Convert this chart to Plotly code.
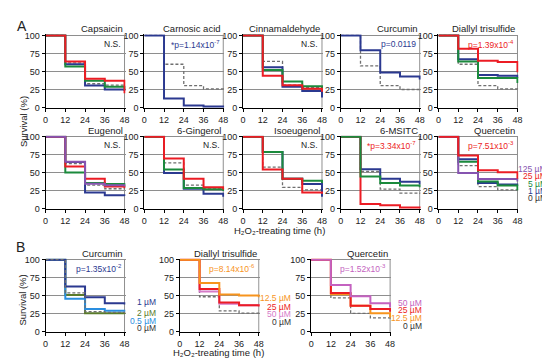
import plotly.graph_objects as go

W, H = 550, 362
TIMES = [0, 12, 24, 36, 48]
X_TICKS = [0, 12, 24, 36, 48]
Y_TICKS = [0, 25, 50, 75, 100]

# ---- colours ----
GRAY = "#6f6f6f"
NAVY = "#2b3990"
GREEN = "#1b8a3c"
RED = "#ec1c24"
PURPLE = "#8654b0"
OLIVE = "#5a7b2a"
LBLUE = "#2a8ee0"
ORANGE = "#f7941d"
PINK = "#d67ac8"
MAGENTA = "#c462c0"

# ---- data (survival %, at 0/12/24/36/48 h) ----
capsaicin = {"0": [100, 62, 33, 31, 24], "1": [100, 60, 30.5, 25, 23],
             "5": [100, 57, 37, 29, 26], "25": [100, 64, 40, 37, 20]}
carnosic = {"0": [100, 60, 30.5, 26, 25], "1": [100, 12.7, 3, 1.5, 0]}
cinnamaldehyde = {"0": [100, 64, 31, 28, 26], "1": [100, 56, 29, 23, 14],
                  "5": [100, 52, 36, 29.5, 27], "25": [100, 44, 31, 26, 22]}
curcumin_a = {"0": [100, 57.7, 30.5, 25, 23], "1": [100, 79.5, 48.6, 43, 39]}
diallyl_a = {"0": [100, 60, 30.5, 26, 23], "1": [100, 67, 45, 44, 41],
             "5": [100, 64, 41, 41, 34], "25": [100, 81.6, 65, 63, 49]}
eugenol = {"0": [100, 63, 33, 28, 27], "1": [100, 65, 23, 19, 18],
           "5": [100, 50.5, 36, 34.5, 30], "25": [100, 58.7, 42, 31, 29],
           "125": [100, 65.6, 35, 33, 31]}
gingerol = {"0": [100, 64, 33, 29, 27], "1": [100, 50, 28, 21, 17],
            "5": [100, 54.6, 29, 27.5, 25], "25": [100, 70, 42, 30, 27]}
isoeugenol = {"0": [100, 58, 30, 26.6, 25], "1": [100, 79, 42, 34.5, 17],
              "5": [100, 79, 42, 39, 36], "25": [100, 54.6, 42, 23, 21]}
msitc = {"0": [100, 52, 27.5, 22, 21], "1": [100, 55, 42, 37.6, 34],
         "5": [100, 45, 36, 32.6, 30], "25": [100, 7, 5, 2, 1]}
quercetin_a = {"0": [100, 60, 31, 26.6, 25], "1": [100, 69, 36, 34, 32],
               "5": [100, 65.6, 38, 32.6, 26], "25": [100, 74, 53.6, 51, 42],
               "125": [100, 50, 41.7, 41.7, 38]}
curcumin_b = {"0": [100, 54, 28, 27, 26], "0.5": [100, 46, 31.5, 29.3, 28],
              "2": [100, 51, 25.7, 25.7, 25], "1": [100, 63, 48, 39.6, 38]}
diallyl_b = {"0": [100, 48.6, 29, 26, 25], "50": [100, 56, 39, 37, 36],
             "25": [100, 59.5, 40.5, 37, 35], "12.5": [100, 67.6, 51.8, 50.5, 48]}
quercetin_b = {"0": [100, 47, 25.7, 19.4, 17], "12.5": [100, 52, 36, 25.7, 20],
               "25": [100, 54, 36, 31.5, 28], "50": [100, 65, 49.5, 39.6, 34]}

COL_A = {"0": GRAY, "1": NAVY, "5": GREEN, "25": RED, "125": PURPLE}
COL_BC = {"0": GRAY, "0.5": LBLUE, "2": OLIVE, "1": NAVY}
COL_BD = {"0": GRAY, "12.5": ORANGE, "25": RED, "50": PINK}
COL_BQ = {"0": GRAY, "12.5": ORANGE, "25": RED, "50": MAGENTA}

# panel: (title, data, colours, draw order, stat text, stat colour, x px, y px)
panels = [
    ("Capsaicin", capsaicin, COL_A, ["0", "1", "5", "25"], "N.S.", "#222", 35, 24),
    ("Carnosic acid", carnosic, COL_A, ["0", "1"], "*p=1.14x10<sup>-7</sup>", NAVY, 135, 24),
    ("Cinnamaldehyde", cinnamaldehyde, COL_A, ["0", "1", "5", "25"], "N.S.", "#222", 235, 24),
    ("Curcumin", curcumin_a, COL_A, ["0", "1"], "p=0.0119", NAVY, 334, 24),
    ("Diallyl trisulfide", diallyl_a, COL_A, ["0", "1", "5", "25"], "p=1.39x10<sup>-4</sup>", RED, 433, 24),
    ("Eugenol", eugenol, COL_A, ["0", "1", "5", "25", "125"], "N.S.", "#222", 35, 128),
    ("6-Gingerol", gingerol, COL_A, ["0", "1", "5", "25"], "N.S.", "#222", 135, 128),
    ("Isoeugenol", isoeugenol, COL_A, ["0", "1", "5", "25"], "N.S.", "#222", 235, 128),
    ("6-MSITC", msitc, COL_A, ["0", "1", "25", "5"], "*p=3.34x10<sup>-7</sup>", RED, 334, 128),
    ("Quercetin", quercetin_a, COL_A, ["0", "1", "5", "125", "25"], "p=7.51x10<sup>-3</sup>", RED, 433, 128),
    ("Curcumin", curcumin_b, COL_BC, ["2", "0.5", "1", "0"], "p=1.35x10<sup>-2</sup>", NAVY, 35, 254),
    ("Diallyl trisulfide", diallyl_b, COL_BD, ["0", "50", "25", "12.5"], "p=8.14x10<sup>-6</sup>", ORANGE, 171, 254),
    ("Quercetin", quercetin_b, COL_BQ, ["0", "12.5", "25", "50"], "p=1.52x10<sup>-3</sup>", MAGENTA, 304, 254),
]

PW, PH = 80, 74  # px size of 0..48 x 0..100
FONT = "Liberation Sans, Arial, Helvetica, sans-serif"

fig = go.Figure()
layout = dict(width=W, height=H, margin=dict(l=0, r=0, t=0, b=0), autosize=False,
              paper_bgcolor="white", plot_bgcolor="white", showlegend=False,
              font=dict(family=FONT, color="#222"))
annotations = []
shapes = []

XR = [0, 48.6]
YR = [-0.6, 101.6]

for i, (title, data, cols, order, stat, statcol, px, py) in enumerate(panels):
    n = "" if i == 0 else str(i + 1)
    xa, ya = "x" + n, "y" + n
    x0 = px
    x1 = px + PW * XR[1] / 48
    ytop = py - PH * (YR[1] - 100) / 100
    ybot = py + PH + PH * (-YR[0]) / 100
    layout["xaxis" + n] = dict(domain=[x0 / W, x1 / W], range=XR, anchor=ya,
                               tickvals=X_TICKS, ticks="outside", ticklen=3, tickwidth=1,
                               tickcolor="black", showline=True, linecolor="black", linewidth=1,
                               showgrid=False, zeroline=False,
                               tickfont=dict(size=9, color="#222"), fixedrange=True)
    layout["yaxis" + n] = dict(domain=[1 - ybot / H, 1 - ytop / H], range=YR, anchor=xa,
                               tickvals=Y_TICKS, ticks="outside", ticklen=3, tickwidth=1,
                               tickcolor="black", showline=True, linecolor="black", linewidth=1,
                               showgrid=True, gridcolor="#8e8e8e", gridwidth=1, zeroline=False,
                               tickfont=dict(size=9, color="#222"), fixedrange=True)
    shapes.append(dict(type="line", xref=xa, yref=ya, x0=48, x1=48, y0=0, y1=100,
                       line=dict(color="#8e8e8e", width=1), layer="below"))
    for key in order:
        dashed = key == "0"
        fig.add_trace(go.Scatter(x=TIMES, y=data[key], xaxis=xa, yaxis=ya, mode="lines",
                                 line=dict(shape="hv", color=cols[key],
                                           width=1.3 if dashed else 2,
                                           dash="3px,2px" if dashed else "solid"),
                                 hoverinfo="skip"))
    annotations.append(dict(text=title, xref=xa + " domain", yref=ya + " domain",
                            x=48 / XR[1], y=1, xanchor="right", yanchor="bottom",
                            showarrow=False, font=dict(size=9.5, color="#222"), yshift=-2))
    annotations.append(dict(text=stat, xref=xa + " domain", yref=ya + " domain",
                            x=47 / XR[1], y=0.965, xanchor="right", yanchor="top",
                            showarrow=False, font=dict(size=8.5, color=statcol)))

# legends (concentration labels)
def leg(items, xr, ys):
    for (txt, c), y in zip(items, ys):
        annotations.append(dict(text=txt, xref="paper", yref="paper", x=xr / W, y=1 - y / H,
                                xanchor="right", yanchor="middle", showarrow=False,
                                font=dict(size=8.5, color=c)))

leg([("125 µM", PURPLE), ("25 µM", RED), ("5 µM", GREEN), ("1 µM", NAVY), ("0 µM", "#333")],
    545, [161, 168.5, 176, 183.5, 191])
leg([("1 µM", NAVY), ("2 µM", OLIVE), ("0.5 µM", LBLUE), ("0 µM", "#333")],
    149, [297, 309, 317, 324])
leg([("12.5 µM", ORANGE), ("25 µM", RED), ("50 µM", PINK), ("0 µM", "#333")],
    286, [293, 303, 310, 318])
leg([("50 µM", MAGENTA), ("25 µM", RED), ("12.5 µM", ORANGE), ("0 µM", "#333")],
    418, [298, 306, 314, 322])

def txt(t, x, y, size, angle=0, anchor="center"):
    annotations.append(dict(text=t, xref="paper", yref="paper", x=x / W, y=1 - y / H,
                            xanchor=anchor, yanchor="middle", showarrow=False, textangle=angle,
                            font=dict(size=size, color="#222")))

txt("A", 11, 14, 14)
txt("B", 10, 241, 14)
txt("Survival (%)", 12, 112, 9.5, angle=-90)
txt("Survival (%)", 12, 295, 9.5, angle=-90)
txt("H₂O₂-treating time (h)", 272, 224, 9.5)
txt("H₂O₂-treating time (h)", 210, 349, 9.5)

layout["annotations"] = annotations
layout["shapes"] = shapes
fig.update_layout(**layout)
fig.write_html("out.html")
